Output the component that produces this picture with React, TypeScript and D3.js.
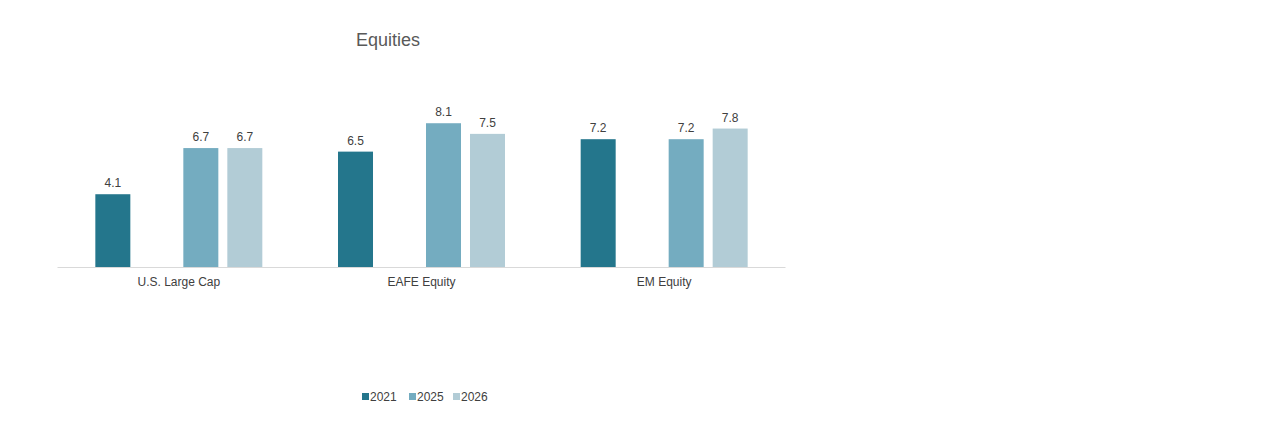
import React, { useEffect, useRef } from 'react';
import * as d3 from 'd3';

const categories = ['U.S. Large Cap', 'EAFE Equity', 'EM Equity'];
// slot order inside each group; the second slot is empty in the source chart
const slotKeys = ['2021', 'gap', '2025', '2026'];
const legendKeys = ['2021', '2025', '2026'];
const values2021 = [4.1, 6.5, 7.2];
const values2025 = [6.7, 8.1, 7.2];
const values2026 = [6.7, 7.5, 7.8];

const colors: Record<string, string> = {
  '2021': '#24768c',
  '2025': '#74acc0',
  '2026': '#b2ccd6',
};

const seriesValues: Record<string, number[]> = {
  '2021': values2021,
  '2025': values2025,
  '2026': values2026,
};

export default function App() {
  const ref = useRef<SVGSVGElement | null>(null);

  useEffect(() => {
    document.body.style.margin = '0';
    if (!ref.current) return;
    const width = 1280;
    const height = 446;
    const svg = d3.select(ref.current);
    svg.selectAll('*').remove();
    svg.attr('viewBox', `0 0 ${width} ${height}`);

    const font = '"Liberation Sans", Arial, sans-serif';
    const left = 57.5;
    const right = 785.5;
    const baseY = 267;

    const x0 = d3.scaleBand().domain(categories).range([left, right]).padding(0);
    const x1 = d3.scaleBand()
      .domain(slotKeys)
      .range([0, x0.bandwidth()])
      .paddingInner(0.2045)
      .paddingOuter(0.86);
    const y = d3.scaleLinear().domain([0, 10]).range([baseY, baseY - 177.5]);

    // title
    svg.append('text')
      .attr('x', 388)
      .attr('y', 46)
      .attr('text-anchor', 'middle')
      .attr('font-family', font)
      .attr('font-size', 18)
      .attr('fill', '#595959')
      .text('Equities');

    const groups = svg.selectAll('.grp')
      .data(categories)
      .join('g')
      .attr('class', 'grp')
      .attr('transform', d => `translate(${x0(d)},0)`);

    legendKeys.forEach(key => {
      groups.append('rect')
        .attr('x', x1(key)!)
        .attr('y', (_, i) => y(seriesValues[key][i]))
        .attr('width', x1.bandwidth())
        .attr('height', (_, i) => baseY - y(seriesValues[key][i]))
        .attr('fill', colors[key]);

      groups.append('text')
        .attr('x', x1(key)! + x1.bandwidth() / 2)
        .attr('y', (_, i) => y(seriesValues[key][i]) - 7)
        .attr('text-anchor', 'middle')
        .attr('font-family', font)
        .attr('font-size', 12)
        .attr('fill', '#404040')
        .text((_, i) => seriesValues[key][i].toFixed(1));
    });

    // baseline
    svg.append('line')
      .attr('x1', left)
      .attr('x2', right)
      .attr('y1', baseY + 0.5)
      .attr('y2', baseY + 0.5)
      .attr('stroke', '#d9d9d9')
      .attr('stroke-width', 1);

    // category labels
    svg.selectAll('.cat')
      .data(categories)
      .join('text')
      .attr('class', 'cat')
      .attr('x', d => x0(d)! + x0.bandwidth() / 2)
      .attr('y', 286)
      .attr('text-anchor', 'middle')
      .attr('font-family', font)
      .attr('font-size', 12)
      .attr('fill', '#404040')
      .text(d => d);

    // legend
    const legendX = [362, 409, 453];
    const legend = svg.selectAll('.leg')
      .data(legendKeys)
      .join('g')
      .attr('class', 'leg')
      .attr('transform', (_, i) => `translate(${legendX[i]},393)`);
    legend.append('rect')
      .attr('width', 7)
      .attr('height', 7)
      .attr('fill', d => colors[d]);
    legend.append('text')
      .attr('x', 8)
      .attr('y', 8)
      .attr('font-family', font)
      .attr('font-size', 12)
      .attr('fill', '#404040')
      .text(d => d);
  }, []);

  return <svg ref={ref} width={1280} height={446} style={{ display: 'block', background: '#fff' }} />;
}
